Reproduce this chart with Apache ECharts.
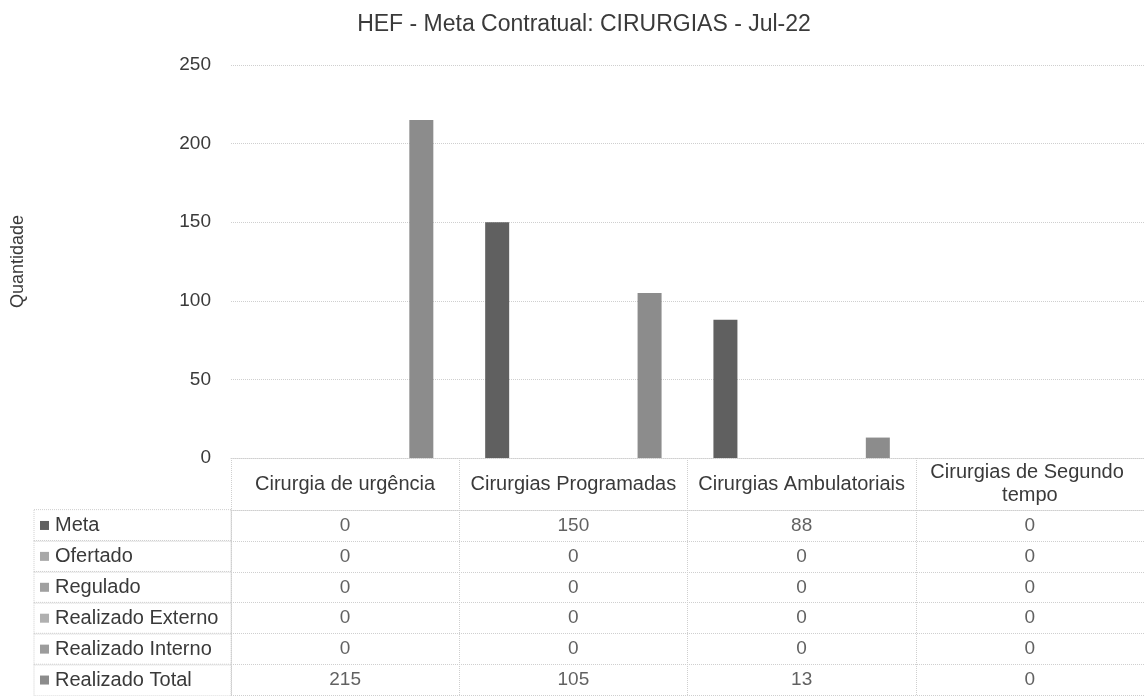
<!DOCTYPE html>
<html>
<head>
<meta charset="utf-8">
<script src="https://cdn.jsdelivr.net/npm/echarts@6/dist/echarts.min.js"></script>
<style>html,body{margin:0;padding:0;background:#fff;}#c{width:1144px;height:696px;}</style>
</head>
<body>
<div id="c"></div>
<script>
var titleText = 'HEF - Meta Contratual: CIRURGIAS - Jul-22';
var categories = ['Cirurgia de urgência', 'Cirurgias Programadas', 'Cirurgias Ambulatoriais', 'Cirurgias de Segundo tempo'];
var seriesNames = ['Meta', 'Ofertado', 'Regulado', 'Realizado Externo', 'Realizado Interno', 'Realizado Total'];
var meta = [0, 150, 88, 0];
var ofertado = [0, 0, 0, 0];
var regulado = [0, 0, 0, 0];
var realizadoExterno = [0, 0, 0, 0];
var realizadoInterno = [0, 0, 0, 0];
var realizadoTotal = [215, 105, 13, 0];
var yTicks = [0, 50, 100, 150, 200, 250];
var seriesColors = ['#606060', '#a8a8a8', '#a0a0a0', '#b0b0b0', '#9c9c9c', '#8c8c8c'];

var allValues = [meta, ofertado, regulado, realizadoExterno, realizadoInterno, realizadoTotal];
var gridColor = '#cfcfcf';
var txt = '#3a3a3a';
var font = 'Liberation Sans, Arial, sans-serif';

var barSeries = seriesNames.map(function (n, i) {
  return {
    name: n, type: 'bar', xAxisIndex: 0, yAxisIndex: 0,
    data: allValues[i], barWidth: 24, barGap: '27%',
    itemStyle: { color: seriesColors[i] }
  };
});

var cellData = [];
allValues.forEach(function (arr, r) {
  arr.forEach(function (v, c) { cellData.push([c, r, v]); });
});

var rich = { t: { fontSize: 20, color: txt, fontFamily: font, align: 'left', padding: [0, 0, 0, 6] } };
seriesNames.forEach(function (n, i) {
  rich['s' + i] = { width: 9, height: 9, backgroundColor: seriesColors[i], align: 'left' };
});

var option = {
  animation: false,
  backgroundColor: '#fff',
  textStyle: { fontFamily: font },
  title: {
    text: titleText, left: 579, top: 8, textAlign: 'center',
    textStyle: { fontSize: 23, fontWeight: 'normal', color: txt, fontFamily: font }
  },
  grid: [
    { left: 231, right: 0, top: 65, height: 393 },
    { left: 231, right: 0, top: 510, height: 190 }
  ],
  xAxis: [
    {
      type: 'category', gridIndex: 0, data: categories,
      axisLine: { lineStyle: { color: gridColor, type: 'dotted' } },
      axisTick: { show: true, length: 52, inside: false, lineStyle: { color: gridColor, type: 'dotted' } },
      axisLabel: {
        show: true, margin: 26, verticalAlign: 'middle', fontSize: 20, color: txt, fontFamily: font,
        width: 215, overflow: 'break', lineHeight: 23, interval: 0
      }
    },
    {
      type: 'category', gridIndex: 1, data: categories, position: 'top',
      axisLine: { show: true, lineStyle: { color: gridColor, type: 'dotted' } },
      axisTick: { show: false }, axisLabel: { show: false },
      splitLine: { show: true, lineStyle: { color: gridColor, type: 'dotted' } }
    }
  ],
  yAxis: [
    {
      type: 'value', gridIndex: 0, min: 0, max: 250, interval: 50,
      name: 'Quantidade', nameLocation: 'middle', nameGap: 204, nameRotate: 90,
      nameTextStyle: { fontSize: 18, color: txt, fontFamily: font },
      axisLine: { show: false }, axisTick: { show: false },
      axisLabel: { margin: 20, fontSize: 19, color: txt, fontFamily: font,
        formatter: function (v) { return yTicks.indexOf(v) >= 0 ? String(v) : ''; } },
      splitLine: { lineStyle: { color: gridColor, type: 'dotted' } }
    },
    {
      type: 'category', gridIndex: 1, data: seriesNames, inverse: true,
      axisLine: { show: true, lineStyle: { color: gridColor, type: 'dotted' } },
      axisTick: { show: false },
      splitLine: { show: true, lineStyle: { color: gridColor, type: 'dotted' } },
      axisLabel: {
        margin: 0, interval: 0,
        width: 189, height: 31.67, lineHeight: 31.67, padding: [0, 2, 0, 6],
        borderColor: gridColor, borderWidth: 1, borderType: 'dotted',
        formatter: function (v, i) { return '{s' + i + '|}{t|' + v + '}'; },
        rich: rich
      }
    }
  ],
  series: barSeries.concat([{
    type: 'scatter', xAxisIndex: 1, yAxisIndex: 1, data: cellData,
    symbolSize: 1, itemStyle: { color: 'rgba(0,0,0,0)' }, silent: true,
    label: { show: true, position: 'inside', fontSize: 19, color: txt, fontFamily: font,
      formatter: function (p) { return String(p.value[2]); } }
  }])
};

var chart = echarts.init(document.getElementById('c'), null, { renderer: 'canvas' });
chart.setOption(option);
</script>
</body>
</html>
